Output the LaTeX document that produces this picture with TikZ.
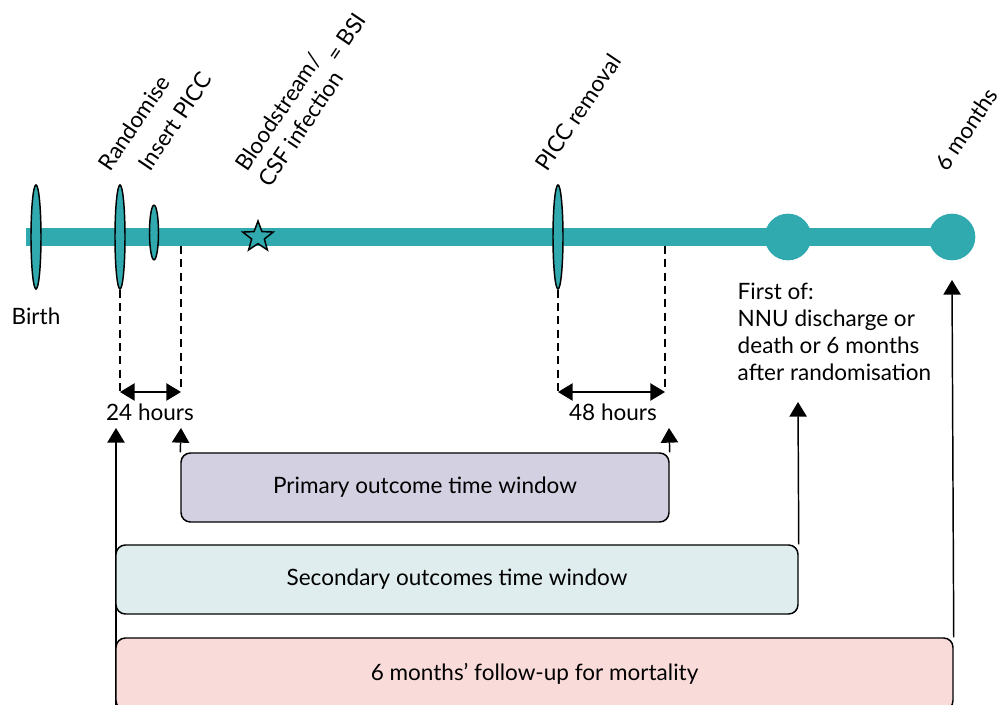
\documentclass[tikz,border=0pt]{standalone}
\usepackage{fontspec}
\setmainfont{Lato}
\usetikzlibrary{positioning,shapes.geometric,arrows.meta}
\definecolor{barteal}{HTML}{30A9AF}
\definecolor{primfill}{HTML}{D2D0E1}
\definecolor{secfill}{HTML}{DFEDEE}
\definecolor{mortfill}{HTML}{F9DCDA}

\begin{document}
\begin{tikzpicture}[
	x=0.75pt, y=-0.75pt,
	font=\fontsize{16.9}{20.25}\selectfont,
	line width=1.1pt,
	marker/.style={draw=black,fill=barteal,ellipse,inner sep=0pt,minimum width=7.5pt,minimum height=78pt},
	endpoint/.style={circle,fill=barteal,inner sep=0pt,minimum size=35pt},
	event/.style={rotate=56,anchor=base west,inner sep=0pt},
	window/.style={draw=black,rounded corners=7pt,minimum height=51.75pt,inner sep=0pt},
	uparrow/.style={-{Triangle[width=13pt,length=11pt]}},
	span/.style={{Triangle[width=13pt,length=11pt]}-{Triangle[width=13pt,length=11pt]}},
	guide/.style={dash pattern=on 6pt off 4pt}
	]
	\useasboundingbox (0,0) rectangle (1000,705);

	% timeline bar
	\coordinate (start) at (26,237);
	\coordinate (stop) at (952,237);
	\draw[barteal, line width=13.5pt] (start) -- (stop);

	\node[marker] (birth) at (36,237) {};
	\node[marker] (rand) at (120,237) {};
	\node[marker,minimum width=6.75pt,minimum height=41pt] (insert) at (154,232.5) {};
	\node[star,star points=5,star point ratio=2.4,draw=black,fill=barteal,minimum size=24pt,inner sep=0pt] (bsi) at (258,237) {};
	\node[marker] (removal) at (558,237) {};
	\node[endpoint] (discharge) at (788,237) {};
	\node[endpoint] (sixmonths) at (952,237) {};

	% event labels
	\node[event] (randlbl) at (110,173) {Randomise};
	\node[event] (insertlbl) at (150,173) {Insert PICC};
	\node[event] (bsilbl) at (247,173) {Bloodstream/};
	\node[event] (csflbl) at (270,189) {CSF infection};
	\node[event] (bsiname) at (338,64) {= BSI};
	\node[event] (removallbl) at (547,173) {PICC removal};
	\node[event] (sixlbl) at (947,173) {6 months};
	\node (birthlbl) at (36,316) {Birth};
	\node[anchor=north west,align=left,inner sep=0pt] (firstof) at (737,282)
		{First of:\\NNU discharge or\\death or 6 months\\after randomisation};

	% 24 and 48 hours
	\coordinate (pin) at (181,246);
	\coordinate (pout) at (665,246);
	\coordinate (h24a) at (120,392);
	\coordinate (h24b) at (181,392);
	\coordinate (h48a) at (558,392);
	\coordinate (h48b) at (665,392);
	\draw[guide] (rand.south) -- (h24a);
	\draw[guide] (pin) -- (h24b);
	\draw[guide] (removal.south) -- (h48a);
	\draw[guide] (pout) -- (h48b);
	\draw[span] (h24a) -- (h24b);
	\draw[span] (h48a) -- (h48b);
	\node (lbl24) at (150,412) {24 hours};
	\node (lbl48) at (613,412) {48 hours};

	% time windows
	\coordinate (t1) at (116,428);
	\coordinate (t2) at (181,428);
	\coordinate (t3) at (669,428);
	\coordinate (t4) at (798,402);
	\coordinate (t5) at (952,280);
	\coordinate (base) at (116,705);
	\draw[uparrow] (base) -- (t1);
	\node[window,fill=primfill,minimum width=366pt] (primary) at (425,487.5) {Primary outcome time window};
	\node[window,fill=secfill,minimum width=511.5pt] (secondary) at (457,579.5) {Secondary outcomes time window};
	\node[window,fill=mortfill,minimum width=627.75pt,minimum height=54pt] (mortality) at (534.5,674) {6 months' follow-up for mortality};
	\draw[uparrow] (primary.north west) -- (t2);
	\draw[uparrow] (primary.north east) -- (t3);
	\draw[uparrow] (secondary.north east) -- (t4);
	\draw[uparrow] (mortality.north east) -- (t5);
\end{tikzpicture}
\end{document}
